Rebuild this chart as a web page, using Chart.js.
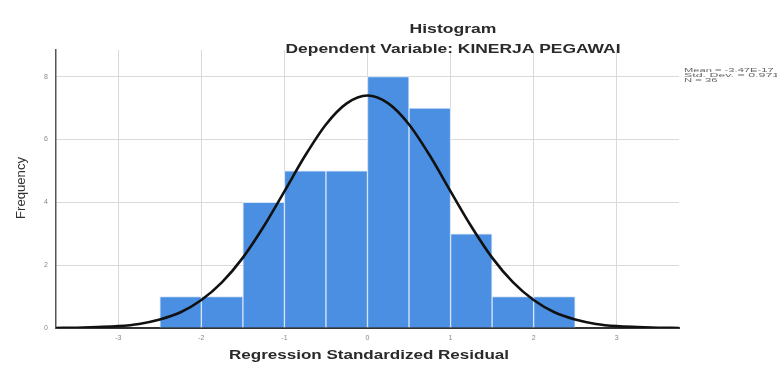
<!DOCTYPE html>
<html>
<head>
<meta charset="utf-8">
<script src="https://cdn.jsdelivr.net/npm/chart.js@4.4.0/dist/chart.umd.min.js"></script>
<style>
  html, body { margin: 0; padding: 0; background: #fff; }
  #wrap { width: 777px; height: 365px; position: relative; }
</style>
</head>
<body>
<div id="wrap"><canvas id="histChart"></canvas></div>
<script>
// bin centres (width 0.5) and frequencies
const binCenters = [-2.25, -1.75, -1.25, -0.75, -0.25, 0.25, 0.75, 1.25, 1.75, 2.25];
const frequencies = [1, 1, 4, 5, 5, 8, 7, 3, 1, 1];

// normal curve
const curveX = [-3.75, -3.5, -3.25, -3, -2.75, -2.5, -2.25, -2, -1.75, -1.5, -1.25, -1, -0.75, -0.5, -0.25, 0,
                0.25, 0.5, 0.75, 1, 1.25, 1.5, 1.75, 2, 2.25, 2.5, 2.75, 3, 3.25, 3.5, 3.75];
const curveY = [0.00, 0.01, 0.03, 0.06, 0.13, 0.27, 0.50, 0.89, 1.46, 2.24, 3.23, 4.35, 5.49, 6.48, 7.15, 7.40,
                7.15, 6.48, 5.49, 4.35, 3.23, 2.24, 1.46, 0.89, 0.50, 0.27, 0.13, 0.06, 0.03, 0.01, 0.00];

const xTicks = [-3, -2, -1, 0, 1, 2, 3];
const yTicks = [0, 2, 4, 6, 8];
const statsLines = ['Mean = -3.47E-17', 'Std. Dev. = 0.971', 'N = 36'];

const titleText = 'Histogram';
const subtitleText = 'Dependent Variable: KINERJA PEGAWAI';
const xTitle = 'Regression Standardized Residual';
const yTitle = 'Frequency';

// draws text squeezed/stretched to a given width
function fitText(ctx, text, x, y, font, color, width, align) {
    ctx.save();
    ctx.font = font;
    ctx.fillStyle = color;
    ctx.textBaseline = 'alphabetic';
    ctx.textAlign = 'left';
    const w = ctx.measureText(text).width;
    const sx = width / w;
    let left = x;
    if (align === 'center') left = x - width / 2;
    ctx.translate(left, y);
    ctx.scale(sx, 1);
    ctx.fillText(text, 0, 0);
    ctx.restore();
}

const textPlugin = {
    id: 'spssText',
    afterDraw(chart) {
        const ctx = chart.ctx;
        const font = 'bold 12px "Liberation Sans", Arial, sans-serif';
        fitText(ctx, titleText, 453, 33, font, '#2a2a2a', 87, 'center');
        fitText(ctx, subtitleText, 453, 53, font, '#2a2a2a', 335, 'center');
        fitText(ctx, xTitle, 369, 359, font, '#2a2a2a', 280, 'center');

        // y title rotated
        ctx.save();
        ctx.translate(25, 188);
        ctx.rotate(-Math.PI / 2);
        fitText(ctx, yTitle, 0, 0, '12px "Liberation Sans", Arial, sans-serif', '#333', 62, 'center');
        ctx.restore();

        // stats box
        statsLines.forEach((s, i) => {
            fitText(ctx, s, 684, 72 + i * 5, '6px "Liberation Sans", Arial, sans-serif', '#666', s.length * 5.6, 'left');
        });
    }
};

const ctx = document.getElementById('histChart').getContext('2d');

new Chart(ctx, {
    type: 'bar',
    data: {
        datasets: [{
            type: 'line',
            label: 'Normal',
            data: curveX.map((x, i) => ({ x: x, y: curveY[i] })),
            borderColor: '#111',
            borderWidth: 2.6,
            pointRadius: 0,
            fill: false,
            cubicInterpolationMode: 'monotone',
            order: 0
        }, {
            type: 'bar',
            label: 'Frequency',
            data: binCenters.map((x, i) => ({ x: x, y: frequencies[i] })),
            backgroundColor: '#4a8fe2',
            borderColor: '#d6e5f8',
            borderWidth: 1,
            barPercentage: 1,
            categoryPercentage: 1,
            order: 1
        }]
    },
    options: {
        responsive: true,
        maintainAspectRatio: false,
        animation: false,
        layout: {
            padding: { left: 0, top: 50, right: 98, bottom: 23 }
        },
        plugins: {
            legend: { display: false },
            tooltip: { enabled: false },
            title: { display: false }
        },
        scales: {
            x: {
                type: 'linear',
                offset: false,
                min: -3.75,
                max: 3.75,
                afterBuildTicks: (scale) => { scale.ticks = xTicks.map(v => ({ value: v })); },
                afterFit: (scale) => { scale.height = 14; },
                grid: {
                    offset: false,
                    color: '#dadada',
                    lineWidth: 1,
                    drawTicks: false
                },
                border: { display: true, color: '#333', width: 2 },
                ticks: {
                    color: '#888',
                    padding: 6,
                    autoSkip: false,
                    maxRotation: 0,
                    font: { size: 7, family: '"Liberation Sans", Arial, sans-serif' },
                    callback: (v) => v
                }
            },
            y: {
                min: 0,
                max: 8.85,
                afterBuildTicks: (scale) => { scale.ticks = yTicks.map(v => ({ value: v })); },
                afterFit: (scale) => { scale.width = 56; },
                grid: {
                    color: '#dadada',
                    lineWidth: 1,
                    drawTicks: false
                },
                border: { display: true, color: '#555', width: 1.5 },
                ticks: {
                    color: '#888',
                    padding: 8,
                    font: { size: 7, family: '"Liberation Sans", Arial, sans-serif' }
                }
            }
        }
    },
    plugins: [textPlugin]
});
</script>
</body>
</html>
